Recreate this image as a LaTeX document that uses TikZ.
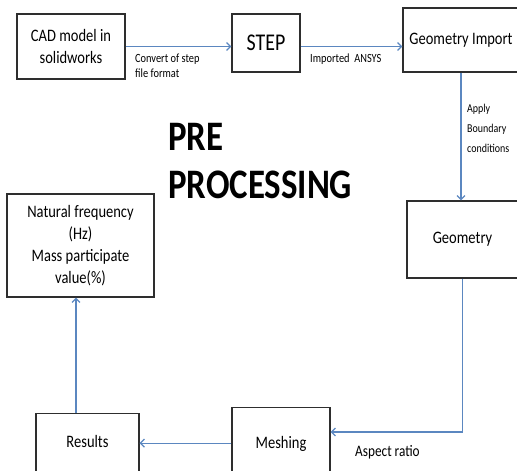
\documentclass[tikz,border=0pt]{standalone}
\usepackage{fontspec}
\setmainfont{Carlito}[FakeStretch=0.83]
\usepackage{tikz}
\usetikzlibrary{arrows.meta}

\begin{document}
\begin{tikzpicture}[x=1pt, y=-1pt,
  box/.style={draw=boxGray, line width=1.2pt, inner sep=0pt, align=center,
    font=\fontsize{17.5}{22.5}\selectfont},
  flow/.style={draw=lineBlue, line width=1.2pt,
    -{Straight Barb[length=4pt,width=8pt]}},
  lbl/.style={inner sep=0pt, align=left, anchor=north west}]

% Colori
\definecolor{lineBlue}{HTML}{5B87C0}
\definecolor{boxGray}{HTML}{2E2E2E}

\useasboundingbox (0,0) rectangle (517,471);

% Titolo
\node[lbl, font=\fontsize{42}{48}\selectfont\bfseries] (title) at (168,123) {PRE\\PROCESSING};

% Blocchi
\node[box, minimum width=108pt, minimum height=65pt] (cad) at (71,46.5) {CAD model in\\solidworks};
\node[box, minimum width=68pt, minimum height=58pt, font=\fontsize{24}{28}\selectfont] (step) at (266,43) {STEP};
\node[box, minimum width=116pt, minimum height=64pt] (gimp) at (461,40) {Geometry Import};
\node[box, minimum width=111pt, minimum height=77pt] (geo) at (462.5,239.5) {Geometry};
\node[box, minimum width=98pt, anchor=north, text height=41pt, text depth=30pt] (mesh) at (281,407) {Meshing};
\node[box, minimum width=103pt, anchor=north, text height=34pt, text depth=30pt] (res) at (87.5,413) {Results};
\node[box, minimum width=147pt, minimum height=103pt, font=\fontsize{17.5}{22}\selectfont] (nat) at (80.5,245.5)
  {Natural frequency\\(Hz)\\Mass participate\\value(\%)};

% Frecce
\draw[flow] (cad.east) -- (cad.east -| step.west);
\draw[flow] (step.east |- cad.east) -- (gimp.west |- cad.east);
\draw[flow] (gimp.south) -- (gimp.south |- geo.north);
\draw[flow] (geo.south) |- (mesh.east |- 0,432);
\draw[flow] (mesh.west) -- (mesh.west -| res.east);
\draw[flow] (res.north -| 76,0) -- (nat.south -| 76,0);

% Etichette
\node[lbl, font=\fontsize{12.5}{15}\selectfont] (lconv) at (135,54) {Convert of step\\file format};
\node[lbl, font=\fontsize{12.5}{15}\selectfont] (limp) at (310,54) {Imported\ \ ANSYS};
\node[lbl, font=\fontsize{12}{20}\selectfont] (lbc) at (467,104) {Apply\\Boundary\\conditions};
\node[lbl, font=\fontsize{16}{19}\selectfont] (lasp) at (355,445) {Aspect ratio};
\end{tikzpicture}
\end{document}
